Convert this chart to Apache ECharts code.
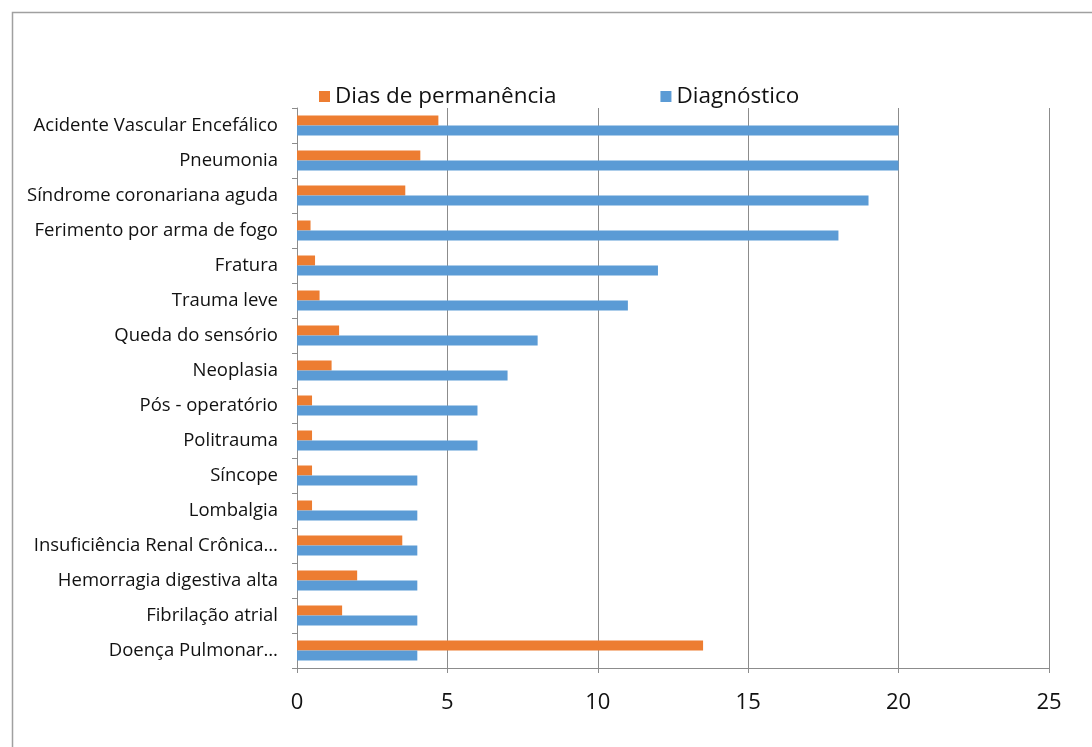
<!DOCTYPE html>
<html>
<head>
<meta charset="utf-8">
<script src="https://cdn.jsdelivr.net/npm/echarts@6/dist/echarts.min.js"></script>
<style>
html,body{margin:0;padding:0;background:#fff;}
#chart{width:1092px;height:747px;}
</style>
</head>
<body>
<div id="chart"></div>
<script>
const categories = [
  "Acidente Vascular Encefálico",
  "Pneumonia",
  "Síndrome coronariana aguda",
  "Ferimento por arma de fogo",
  "Fratura",
  "Trauma leve",
  "Queda do sensório",
  "Neoplasia",
  "Pós - operatório",
  "Politrauma",
  "Síncope",
  "Lombalgia",
  "Insuficiência Renal Crônica…",
  "Hemorragia digestiva alta",
  "Fibrilação atrial",
  "Doença Pulmonar…"
];
const diasPermanencia = [4.7, 4.1, 3.6, 0.45, 0.6, 0.75, 1.4, 1.15, 0.5, 0.5, 0.5, 0.5, 3.5, 2.0, 1.5, 13.5];
const diagnostico = [20, 20, 19, 18, 12, 11, 8, 7, 6, 6, 4, 4, 4, 4, 4, 4];
const xTicks = [0, 5, 10, 15, 20, 25];

const chart = echarts.init(document.getElementById('chart'), null, {renderer: 'canvas'});
const font = '"Open Sans", Lato, sans-serif';
const gridColor = '#8c8c8c';
chart.setOption({
  backgroundColor: '#fff',
  textStyle: {fontFamily: font},
  graphic: [{
    type: 'rect', left: 10, top: 10,
    shape: {width: 1200, height: 900},
    style: {fill: 'none', stroke: '#a0a0a0', lineWidth: 1.5},
    silent: true
  }],
  legend: {
    data: ['Dias de permanência', 'Diagnóstico'],
    left: 314, top: 80,
    itemWidth: 11, itemHeight: 11, itemGap: 104,
    icon: 'rect',
    textStyle: {fontSize: 22.5, color: '#111', fontFamily: font}
  },
  grid: {left: 297, right: 43, top: 108, bottom: 79, containLabel: false},
  xAxis: {
    type: 'value', min: xTicks[0], max: xTicks[xTicks.length - 1], interval: 5,
    axisLine: {show: true, lineStyle: {color: gridColor, width: 1}},
    axisTick: {show: true, length: 5, lineStyle: {color: gridColor}},
    splitLine: {show: true, lineStyle: {color: gridColor, width: 1}},
    axisLabel: {fontSize: 22, color: '#111', margin: 24, fontFamily: font}
  },
  yAxis: {
    type: 'category', data: categories, inverse: true,
    axisLine: {show: true, lineStyle: {color: gridColor, width: 1}},
    axisTick: {show: true, length: 5, lineStyle: {color: gridColor}},
    axisLabel: {fontSize: 18.5, color: '#111', margin: 19, fontFamily: font}
  },
  series: [
    {
      name: 'Dias de permanência', type: 'bar', data: diasPermanencia,
      barWidth: 10, barGap: '0%',
      itemStyle: {color: '#ED7D31'}
    },
    {
      name: 'Diagnóstico', type: 'bar', data: diagnostico,
      barWidth: 10, barGap: '0%',
      itemStyle: {color: '#5B9BD5'}
    }
  ],
  animation: false
});
</script>
</body>
</html>
